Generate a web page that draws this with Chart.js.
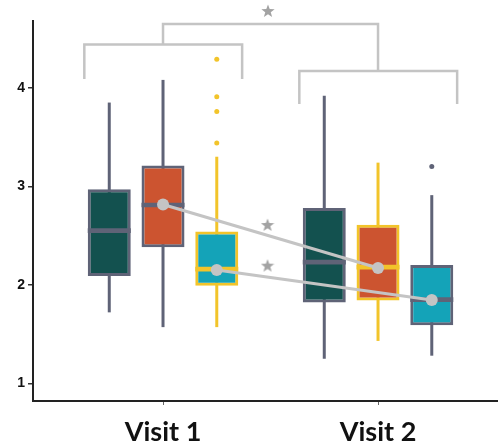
<!DOCTYPE html>
<html>
<head>
<meta charset="utf-8">
<script src="https://cdn.jsdelivr.net/npm/chart.js@4.4.1/dist/chart.umd.min.js"></script>
<style>
  html, body { margin: 0; padding: 0; background: #fff; overflow: hidden; }
  canvas { display: block; }
</style>
</head>
<body>
<canvas id="chart" width="498" height="448"></canvas>
<script>
// ─── Data ───
var visits = ['Visit 1', 'Visit 2'];
var visitX = [1, 2];
var yTicks = [1, 2, 3, 4];

// dark teal series  [Visit 1, Visit 2]
var darkLo  = [1.72, 1.25];
var darkQ1  = [2.09, 1.82];
var darkMed = [2.55, 2.23];
var darkQ3  = [2.97, 2.78];
var darkHi  = [3.85, 3.92];

// orange series
var orangeLo  = [1.57, 1.43];
var orangeQ1  = [2.38, 1.84];
var orangeMed = [2.81, 2.18];
var orangeQ3  = [3.21, 2.61];
var orangeHi  = [4.08, 3.24];
var orangeMean = [2.815, 2.17];

// cyan series
var cyanLo  = [1.57, 1.28];
var cyanQ1  = [1.99, 1.59];
var cyanMed = [2.16, 1.85];
var cyanQ3  = [2.54, 2.20];
var cyanHi  = [3.30, 2.91];
var cyanMean = [2.15, 1.846];
var cyanOutV1 = [4.29, 3.91, 3.76, 3.44];
var cyanOutV2 = [3.20];

// significance brackets and stars
var bracketV1X = [0.634, 0.634, 1.368, 1.368];
var bracketV1Y = [4.09, 4.44, 4.44, 4.09];
var bracketV2X = [1.634, 1.634, 2.368, 2.368];
var bracketV2Y = [3.836, 4.17, 4.17, 3.836];
var bracketTopX = [1, 1, 2, 2];
var bracketTopY = [4.44, 4.648, 4.648, 4.17];
var starX = [1.486, 1.486, 1.488];
var starY = [2.607, 2.194, 4.78];

// ─── Style ───
var C_DARK = '#13514f', C_ORANGE = '#cc5430', C_CYAN = '#14a3b8';
var C_SLATE = '#5f6377', C_YELLOW = '#f2c42a', C_GRAY = '#c4c4c4';
var offsets = [-0.25, 0, 0.25];

function pts(xs, ys) {
  return xs.map(function (x, i) { return { x: x, y: ys[i] }; });
}

function boxSets(off, lo, q1, med, q3, hi, fill, edge) {
  var xs = visitX.map(function (v) { return v + off; });
  return [
    { type: 'bar', order: 6, grouped: false, barPercentage: 1, maxBarThickness: 3,
      data: xs.map(function (x, i) { return { x: x, y: [lo[i], hi[i]] }; }),
      backgroundColor: edge, borderWidth: 0 },
    { type: 'bar', order: 5, grouped: false, barPercentage: 1, maxBarThickness: 50,
      data: xs.map(function (x, i) { return { x: x, y: [q1[i], q3[i]] }; }),
      backgroundColor: fill, borderColor: edge, borderWidth: 3, borderSkipped: false },
    { type: 'bar', order: 4, grouped: false, barPercentage: 1, maxBarThickness: 50,
      data: xs.map(function (x, i) { return { x: x, y: [med[i] - 0.024, med[i] + 0.024] }; }),
      backgroundColor: edge, borderWidth: 0 }
  ];
}

// filled star
var starImg = document.createElement('canvas');
starImg.width = 14; starImg.height = 14;
(function () {
  var g = starImg.getContext('2d');
  g.fillStyle = '#a3a3a3';
  g.beginPath();
  for (var i = 0; i < 10; i++) {
    var r = i % 2 ? 2.9 : 7;
    var a = -Math.PI / 2 + i * Math.PI / 5;
    var px = 7 + r * Math.cos(a), py = 7.4 + r * Math.sin(a);
    if (i) g.lineTo(px, py); else g.moveTo(px, py);
  }
  g.closePath();
  g.fill();
})();

// stars may sit above the plot area, so draw them after the datasets
var starPlugin = {
  id: 'stars',
  afterDatasetsDraw: function (chart) {
    var xs = chart.scales.x, ys = chart.scales.y, ctx = chart.ctx;
    starX.forEach(function (x, i) {
      var px = xs.getPixelForValue(x), py = ys.getPixelForValue(starY[i]);
      ctx.drawImage(starImg, px - 7, py - 7);
    });
  }
};

var datasets = []
  .concat(boxSets(offsets[0], darkLo, darkQ1, darkMed, darkQ3, darkHi, C_DARK, [C_SLATE, C_SLATE]))
  .concat(boxSets(offsets[1], orangeLo, orangeQ1, orangeMed, orangeQ3, orangeHi, C_ORANGE, [C_SLATE, C_YELLOW]))
  .concat(boxSets(offsets[2], cyanLo, cyanQ1, cyanMed, cyanQ3, cyanHi, C_CYAN, [C_YELLOW, C_SLATE]));

datasets.push(
  { type: 'line', order: 2, data: pts(visitX, orangeMean),
    borderColor: C_GRAY, borderWidth: 3, pointRadius: 6, pointBackgroundColor: C_GRAY, pointBorderWidth: 0 },
  { type: 'line', order: 2, data: pts(visitX.map(function (v) { return v + offsets[2]; }), cyanMean),
    borderColor: C_GRAY, borderWidth: 3, pointRadius: 6, pointBackgroundColor: C_GRAY, pointBorderWidth: 0 },
  { type: 'scatter', order: 1, data: cyanOutV1.map(function (y) { return { x: 1 + offsets[2], y: y }; }),
    pointRadius: 2.5, pointBackgroundColor: C_YELLOW, pointBorderWidth: 0 },
  { type: 'scatter', order: 1, data: cyanOutV2.map(function (y) { return { x: 2 + offsets[2], y: y }; }),
    pointRadius: 2.5, pointBackgroundColor: C_SLATE, pointBorderWidth: 0 },
  { type: 'line', order: 3, data: pts(bracketV1X, bracketV1Y), borderColor: C_GRAY, borderWidth: 2.5, pointRadius: 0, clip: false },
  { type: 'line', order: 3, data: pts(bracketV2X, bracketV2Y), borderColor: C_GRAY, borderWidth: 2.5, pointRadius: 0, clip: false },
  { type: 'line', order: 3, data: pts(bracketTopX, bracketTopY), borderColor: C_GRAY, borderWidth: 2.5, pointRadius: 0, clip: false }
);

new Chart(document.getElementById('chart'), {
  type: 'bar',
  data: { datasets: datasets },
  plugins: [starPlugin],
  options: {
    responsive: false,
    animation: false,
    layout: { autoPadding: false, padding: { top: 21, right: 0, left: 0, bottom: 0 } },
    plugins: { legend: { display: false }, tooltip: { enabled: false } },
    scales: {
      x: {
        type: 'linear', min: 0.3953, max: 2.558, offset: false,
        afterBuildTicks: function (axis) { axis.ticks = visitX.map(function (v) { return { value: v }; }); },
        afterFit: function (axis) { axis.height = 47; axis.paddingLeft = 0; axis.paddingRight = 0; },
        grid: { drawOnChartArea: false, offset: false, tickLength: 4, color: '#666', lineWidth: 1 },
        border: { color: '#222', width: 2 },
        ticks: {
          padding: 11, color: '#111', maxRotation: 0,
          font: { family: 'Lato', weight: 'bold', size: 27 },
          callback: function (v) { return visits[visitX.indexOf(v)]; }
        }
      },
      y: {
        min: 0.82, max: 4.678,
        afterBuildTicks: function (axis) { axis.ticks = yTicks.map(function (v) { return { value: v }; }); },
        afterFit: function (axis) { axis.width = 33; },
        grid: { drawOnChartArea: false, tickLength: 5, color: '#333', lineWidth: 1.5 },
        border: { color: '#222', width: 2 },
        ticks: {
          padding: 3, color: '#111',
          font: { family: 'Liberation Sans', weight: 'bold', size: 14 }
        }
      }
    }
  }
});
</script>
</body>
</html>
